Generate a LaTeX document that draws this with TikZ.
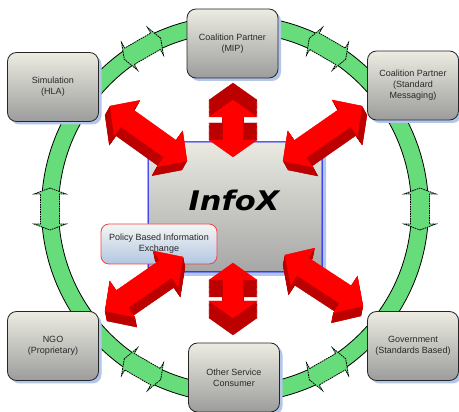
\documentclass[tikz,border=0pt]{standalone}
\usepackage{fontspec}
\setmainfont{Liberation Sans}
\newfontfamily\infoxfont{DejaVu Sans}[BoldItalicFont={DejaVu Sans Bold Oblique}]
\usetikzlibrary{shadows}
\definecolor{ringgreen}{RGB}{102,221,122}
\definecolor{boxtop}{RGB}{236,236,226}
\definecolor{boxbot}{RGB}{156,156,156}
\definecolor{shadowblue}{RGB}{178,198,234}
\definecolor{arrred}{RGB}{255,0,0}
\definecolor{arrdark}{RGB}{188,0,0}
\definecolor{infotop}{RGB}{234,234,226}
\definecolor{infobot}{RGB}{166,166,166}
\definecolor{policyred}{RGB}{240,70,70}
\definecolor{policytop}{RGB}{246,246,244}
\definecolor{policybot}{RGB}{178,198,226}
\definecolor{txt}{RGB}{40,40,40}

\newcommand\AP[2]{({\Ax+(#1)*\Ux-(#2)*\Uy+\Ox},{\Ay+(#1)*\Uy+(#2)*\Ux+\Oy})}
\newcommand\arrshape{\AP{0}{0} -- \AP{\Hl}{\Hw} -- \AP{\Hl}{\Sw} -- \AP{\LL-\Hl}{\Sw} -- \AP{\LL-\Hl}{\Hw} -- \AP{\LL}{0} -- \AP{\LL-\Hl}{-\Hw} -- \AP{\LL-\Hl}{-\Sw} -- \AP{\Hl}{-\Sw} -- \AP{\Hl}{-\Hw} -- cycle}
% #1 #2 outer tip, #3 #4 inner tip, #5 #6 extrusion, #7 head length, #8 head half width, #9 shaft half width
\newcommand\redarrow[9]{%
  \pgfmathsetmacro\Ax{#1}\pgfmathsetmacro\Ay{#2}%
  \pgfmathsetmacro\Dx{#3-#1}\pgfmathsetmacro\Dy{#4-#2}%
  \pgfmathsetmacro\LL{veclen(\Dx,\Dy)}%
  \pgfmathsetmacro\Ux{\Dx/\LL}\pgfmathsetmacro\Uy{\Dy/\LL}%
  \def\Hl{#7}\def\Hw{#8}\def\Sw{#9}%
  \foreach \k in {20,19,...,1}{%
    \pgfmathsetmacro\Ox{#5*\k/20}\pgfmathsetmacro\Oy{#6*\k/20}%
    \filldraw[arrdark, line width=0.3pt] \arrshape;}%
  \def\Ox{0}\def\Oy{0}%
  \filldraw[arrred, line width=0.3pt] \arrshape;%
}

\begin{document}
\begin{tikzpicture}[x=1pt,y=-1pt,
  partner/.style={rounded corners=9pt, draw=black!85, line width=0.8pt,
    top color=boxtop, bottom color=boxbot, minimum width=91pt, minimum height=69pt,
    align=center, text=txt, font=\fontsize{9}{11}\selectfont,
    drop shadow={shadow xshift=3pt,shadow yshift=-3pt,fill=shadowblue,opacity=1}},
  ringarrow/.style={fill=ringgreen, draw=black, line width=0.8pt, dash pattern=on 1.6pt off 0.8pt}
]
\useasboundingbox (0,0) rectangle (459,412);
\fill[white] (0,0) rectangle (459,412);

% green ring
\fill[ringgreen, even odd rule] (235,209) circle[radius=193.5] (235,209) circle[radius=176.5];
\draw[black, line width=0.8pt] (235,209) circle[radius=193.5] (235,209) circle[radius=176.5];
\foreach \a in {0,60,...,300}{
  \begin{scope}[shift={({235+185*cos(\a)},{209-185*sin(\a)})}, rotate=\a+90]
    \path[ringarrow] (-21,0) -- (-15,16) -- (-15,9.5) -- (15,9.5) -- (15,16) -- (21,0)
      -- (15,-16) -- (15,-9.5) -- (-15,-9.5) -- (-15,-16) -- cycle;
  \end{scope}}

% partner boxes
\node[partner] (sim) at (53,87) {Simulation\\(HLA)};
\node[partner] (mip) at (232.5,43.5) {Coalition Partner\\(MIP)};
\node[partner] (std) at (413,85.5) {Coalition Partner\\(Standard\\Messaging)};
\node[partner] (ngo) at (53,346) {NGO\\(Proprietary)};
\node[partner] (gov) at (413,346) {Government\\(Standards Based)};
\node[partner] (other) at (234,377.5) {Other Service\\Consumer};

% central box
\node[draw=blue, line width=1pt, rounded corners=5pt, top color=infotop, bottom color=infobot,
  minimum width=174pt, minimum height=130pt,
  drop shadow={shadow xshift=4pt,shadow yshift=-4pt,fill=shadowblue,opacity=1}] (infox) at (235,207) {};
\node[font=\infoxfont\bfseries\itshape\fontsize{27}{27}\selectfont, xscale=1.13, text=black] (infoxlabel) at (234,200) {InfoX};

% policy box
\node[draw=policyred, line width=0.8pt, rounded corners=8pt, top color=policytop, bottom color=policybot,
  minimum width=116pt, minimum height=40pt, align=center, text=txt, font=\fontsize{9}{11}\selectfont]
  (policy) at (159,244) {Policy Based Information\\Exchange};

% red 3D double arrows
\redarrow{110}{106}{187}{161}{-5}{9}{21}{22}{10.5}
\redarrow{233}{100}{233}{157}{0}{-17}{17}{24}{10}
\redarrow{362}{106}{283}{161}{5}{9}{21}{22}{10.5}
\redarrow{105}{311}{183}{257}{2}{10}{21}{22}{10.5}
\redarrow{233}{318}{233}{263}{0}{17}{17}{24}{10}
\redarrow{363}{306}{285}{255}{-2}{10}{21}{22}{10.5}
\end{tikzpicture}
\end{document}
